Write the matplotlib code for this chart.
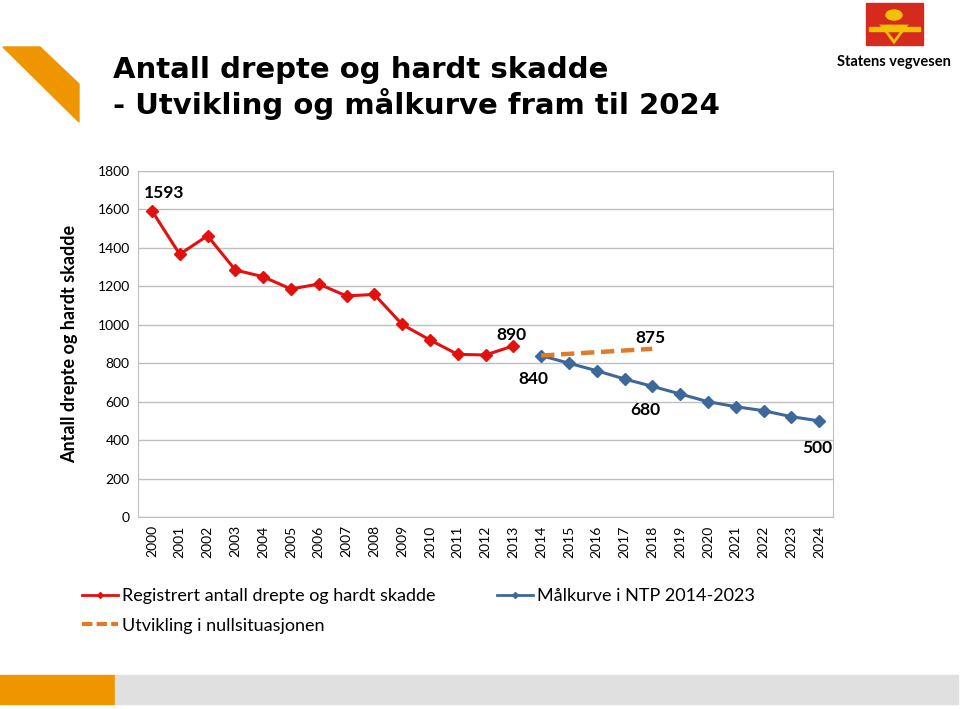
import matplotlib.pyplot as plt
import matplotlib.patches as mpatches
from matplotlib.lines import Line2D
import numpy as np

plt.rcParams['font.family'] = ['Lato', 'DejaVu Sans']

years = [str(y) for y in range(2000, 2025)]
registered = [1593, 1367, 1463, 1285, 1250, 1186, 1212, 1150, 1158, 1002, 921, 846, 843, 890]
target = [840, 800, 761, 718, 680, 640, 600, 574, 553, 522, 500]
baseline_years = [14, 18]
baseline = [840, 875]

red = "#E2100F"
blue = "#3E6899"
orange = "#DE7B2C"

fig = plt.figure(figsize=(9.6, 7.09), dpi=100)
ax = fig.add_axes([138 / 960, 1 - 517 / 709, (833 - 138) / 960, (517 - 171) / 709])

x = np.arange(len(years))
ax.plot(x[:len(registered)], registered, color=red, lw=2.2, marker="D", ms=6)
ax.plot(x[14:14 + len(target)], target, color=blue, lw=2.2, marker="D", ms=6)
ax.plot(baseline_years, baseline, color=orange, lw=3.2, ls=(0, (3, 1.5)))

ax.set_xlim(-0.5, len(years) - 0.5)
ax.set_ylim(0, 1800)
ax.set_yticks(range(0, 1801, 200))
ax.set_xticks(x)
ax.set_xticklabels(years, rotation=90)
ax.tick_params(length=0, labelsize=10, pad=6)
ax.grid(axis="y", color="#BFBFBF", lw=1)
ax.set_axisbelow(True)
for s in ax.spines.values():
    s.set_color("#BFBFBF")
ax.set_ylabel("Antall drepte og hardt skadde", fontsize=13, fontweight="bold", labelpad=14)

labels = [(0, 1593, "1593", -0.3, 90), (13, 890, "890", -0.6, 55),
          (17.2, 875, "875", 0.2, 55), (14.3, 840, "840", -1.1, -120),
          (18.1, 680, "680", -0.9, -125), (24.0, 500, "500", -0.6, -140)]
for xi, yi, txt, dx, dy in labels:
    ax.text(xi + dx, yi + dy, txt, fontsize=12.5, fontweight="bold", ha="left", va="center")

handles = [Line2D([], [], color=red, lw=2, marker="D", ms=3),
           Line2D([], [], color=orange, lw=3, ls=(0, (2.5, 1))),
           Line2D([], [], color=blue, lw=2, marker="D", ms=3)]
names = ["Registrert antall drepte og hardt skadde", "Utvikling i nullsituasjonen",
         "Målkurve i NTP 2014-2023"]
fig.legend(handles, names, ncol=2, loc="upper left", bbox_to_anchor=(66 / 960, 1 - 572 / 709),
           frameon=False, fontsize=13, handlelength=2.0, handletextpad=0.2,
           columnspacing=3.4, labelspacing=0.75)

fig.text(113 / 960, 1 - 88 / 709, "Antall drepte og hardt skadde\n- Utvikling og målkurve fram til 2024",
         fontsize=21, fontweight="bold", family="DejaVu Sans", va="center", ha="left", linespacing=1.12)

# decorations
fig.patches.append(mpatches.Polygon([(3 / 960, 1 - 47 / 709), (40 / 960, 1 - 47 / 709),
                                     (79 / 960, 1 - 84 / 709), (79 / 960, 1 - 122 / 709)],
                                    closed=True, transform=fig.transFigure, color="#EE9500"))
fig.patches.append(mpatches.Rectangle((0, 1 - 704 / 709), 115 / 960, 29 / 709,
                                      transform=fig.transFigure, color="#EE9500"))
fig.patches.append(mpatches.Rectangle((115 / 960, 1 - 704 / 709), 843 / 960, 29 / 709,
                                      transform=fig.transFigure, color="#E0E0E0"))
fig.patches.append(mpatches.Rectangle((866 / 960, 1 - 45 / 709), 57 / 960, 42 / 709,
                                      transform=fig.transFigure, color="#D52B1E"))
fig.patches.append(mpatches.Polygon([(882 / 960, 1 - 26 / 709), (906 / 960, 1 - 26 / 709),
                                     (894 / 960, 1 - 42 / 709)], closed=True, fill=False,
                                    transform=fig.transFigure, ec="#F2C200", lw=2))
fig.patches.append(mpatches.Rectangle((869 / 960, 1 - 31 / 709), 51 / 960, 4 / 709,
                                      transform=fig.transFigure, color="#F2C200"))
fig.patches.append(mpatches.Ellipse((894 / 960, 1 - 15 / 709), 16 / 960, 10 / 709,
                                    transform=fig.transFigure, color="#F2C200"))
fig.text(894 / 960, 1 - 62 / 709, "Statens vegvesen", fontsize=10.5, fontweight="bold",
         ha="center", va="center")

fig.savefig("out.png", dpi=100)
